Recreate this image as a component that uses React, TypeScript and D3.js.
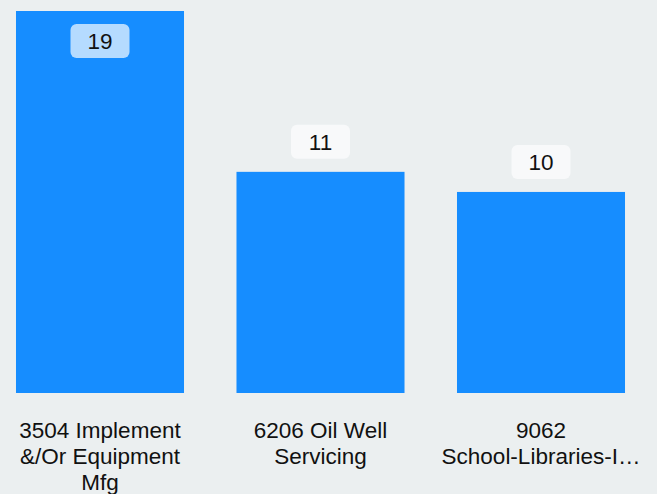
import React from "react";
import * as d3 from "d3";

const categories = ["3504 Implement &/Or Equipment Mfg", "6206 Oil Well Servicing", "9062 School-Libraries-Instruction"];
const labelLines = [["3504 Implement", "&/Or Equipment", "Mfg"], ["6206 Oil Well", "Servicing"], ["9062", "School-Libraries-I…"]];
const values = [19, 11, 10];

const W = 657, H = 494;

export default function App() {
  const x = d3.scaleBand().domain(categories).range([-10.25, 651.25]).paddingInner(0.238).paddingOuter(0.119);
  const y = d3.scaleLinear().domain([0, 19]).range([393, 11]);
  const font = "'Liberation Sans', Arial, sans-serif";
  return (
    <svg width={W} height={H} style={{ position: "absolute", left: 0, top: 0, display: "block" }}>
      <rect x={0} y={0} width={W} height={H} fill="#ebeff0" />
      {categories.map((c, i) => {
        const bx = x(c)!;
        const bw = x.bandwidth();
        const top = y(values[i]);
        const cx = bx + bw / 2;
        const inside = i === 0;
        const boxH = 34, boxW = 59;
        const boxY = inside ? top + 13 : top - 13 - boxH;
        return (
          <g key={c}>
            <rect x={bx} y={top} width={bw} height={y(0) - top} fill="#168dff" />
            <rect x={cx - boxW / 2} y={boxY} width={boxW} height={boxH} rx={6} fill={inside ? "#b5dbff" : "#f8f9fa"} />
            <text x={cx} y={boxY + boxH / 2 + 8} textAnchor="middle" fontFamily={font} fontSize={22.5} fill="#111">{values[i]}</text>
            {labelLines[i].map((l, j) => (
              <text key={j} x={cx} y={437.5 + j * 26} textAnchor="middle" fontFamily={font} fontSize={22.5} fill="#111">{l}</text>
            ))}
          </g>
        );
      })}
    </svg>
  );
}
